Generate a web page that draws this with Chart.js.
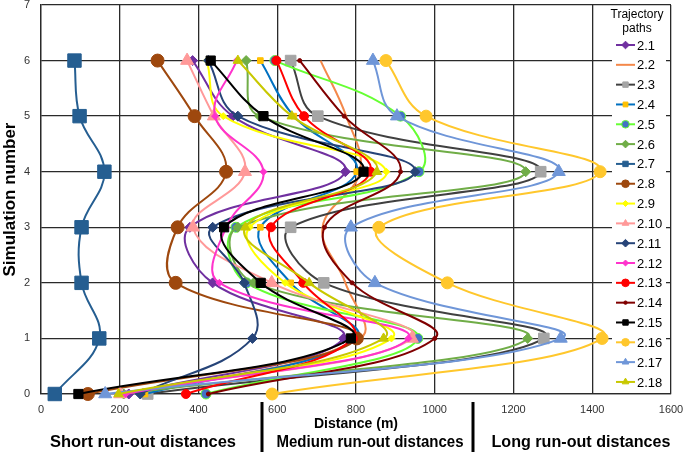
<!DOCTYPE html>
<html>
<head>
<meta charset="utf-8">
<script src="https://cdn.jsdelivr.net/npm/chart.js@4.4.0/dist/chart.umd.min.js"></script>
<style>
  html, body { margin: 0; padding: 0; background: #fff; }
</style>
</head>
<body>
<canvas id="line_chart" width="685" height="454"></canvas>
<script>
// simulation numbers (y axis), run-out distance in metres for each path (x axis)
var simNumbers = [0, 1, 2, 3, 4, 5, 6];
var pathNames = ["2.1", "2.2", "2.3", "2.4", "2.5", "2.6", "2.7", "2.8", "2.9",
                 "2.10", "2.11", "2.12", "2.13", "2.14", "2.15", "2.16", "2.17", "2.18"];

var path2_1  = [223, 768, 436, 378, 773, 487, 385];
var path2_2  = [240, 810, 773, 715, 810, 775, 710];
var path2_3  = [271, 1277, 718, 634, 1269, 703, 634];
var path2_4  = [264, 800, 634, 557, 802, 642, 557];
var path2_5  = [419, 957, 522, 495, 960, 913, 594];
var path2_6  = [210, 1236, 540, 500, 1231, 555, 521];
var path2_7  = [35, 148, 103, 103, 161, 98, 85];
var path2_8  = [119, 802, 342, 347, 470, 390, 296];
var path2_9  = [205, 890, 620, 530, 877, 463, 421];
var path2_10 = [201, 942, 586, 386, 518, 439, 371];
var path2_11 = [252, 537, 516, 436, 950, 500, 425];
var path2_12 = [215, 933, 453, 470, 565, 442, 497];
var path2_13 = [368, 792, 666, 584, 837, 668, 598];
var path2_14 = [425, 1000, 790, 720, 913, 770, 657];
var path2_15 = [95, 787, 558, 465, 819, 565, 431];
var path2_16 = [587, 1425, 1032, 858, 1420, 978, 876];
var path2_17 = [163, 1320, 848, 787, 1315, 904, 843];
var path2_18 = [197, 870, 681, 519, 853, 637, 500];

var xTicks = [0, 200, 400, 600, 800, 1000, 1200, 1400, 1600];

var runs = [path2_1, path2_2, path2_3, path2_4, path2_5, path2_6, path2_7, path2_8, path2_9,
            path2_10, path2_11, path2_12, path2_13, path2_14, path2_15, path2_16, path2_17, path2_18];

// line colour, marker fill, marker border, marker style, marker radius
var styles = [
    ['#7030A0', '#7030A0', '#7030A0', 'rectRot', 5],
    ['#F4884A', '#F4884A', '#F4884A', 'circle', 0],
    ['#404040', '#A5A5A5', '#A5A5A5', 'rect', 7.5],
    ['#0070C0', '#FFC000', '#FFC000', 'rect', 4],
    ['#66FF33', '#4472C4', '#66FF33', 'circle', 5],
    ['#70AD47', '#70AD47', '#70AD47', 'rectRot', 5],
    ['#255E91', '#255E91', '#255E91', 'rect', 9.5],
    ['#9E480E', '#9E480E', '#9E480E', 'circle', 6.5],
    ['#FFFF00', '#FFFF00', '#FFFF00', 'rectRot', 3.5],
    ['#FF9999', '#FF9999', '#FF9999', 'triangle', 7.5],
    ['#264478', '#264478', '#264478', 'rectRot', 5],
    ['#FF33CC', '#FF33CC', '#FF33CC', 'rectRot', 3.5],
    ['#FF0000', '#FF0000', '#FF0000', 'circle', 4.5],
    ['#800000', '#800000', '#800000', 'circle', 2],
    ['#000000', '#000000', '#000000', 'rect', 6.5],
    ['#FFC72C', '#FFC72C', '#FFC72C', 'circle', 6],
    ['#6F96D8', '#6F96D8', '#6F96D8', 'triangle', 7.5],
    ['#C8C800', '#C8C800', '#C8C800', 'triangle', 5.5]
];

var datasets = runs.map(function (run, i) {
    var s = styles[i];
    return {
        label: pathNames[i],
        data: run.map(function (d, k) { return { x: d, y: simNumbers[k] }; }),
        showLine: true,
        tension: 0.4,
        borderWidth: 2,
        borderColor: s[0],
        backgroundColor: s[0],
        pointBackgroundColor: s[1],
        pointBorderColor: s[2],
        pointBorderWidth: 1,
        pointStyle: s[3],
        pointRadius: s[4],
        clip: false,
        order: runs.length - 1 - i
    };
});

var extras = {
    id: 'extras',
    afterDraw: function (chart) {
        var ctx = chart.ctx;
        var area = chart.chartArea;
        ctx.save();

        // legend box inside the plot
        ctx.fillStyle = '#fff';
        ctx.fillRect(612, area.top + 1, 54, area.bottom - area.top - 2);
        ctx.fillStyle = '#000';
        ctx.font = '12px "Liberation Sans", Arial, sans-serif';
        ctx.textAlign = 'center';
        ctx.textBaseline = 'middle';
        ctx.fillText('Trajectory', 637, 15);
        ctx.fillText('paths', 637, 29);

        ctx.font = '13px "Liberation Sans", Arial, sans-serif';
        ctx.textAlign = 'left';
        pathNames.forEach(function (name, i) {
            var s = styles[i];
            var y = 45 + i * 19.82;
            ctx.strokeStyle = s[0];
            ctx.lineWidth = 2;
            ctx.beginPath();
            ctx.moveTo(616, y);
            ctx.lineTo(635, y);
            ctx.stroke();
            if (s[4] > 0) {
                ctx.fillStyle = s[1];
                ctx.strokeStyle = s[2];
                ctx.lineWidth = 1;
                Chart.helpers.drawPoint(ctx, {
                    pointStyle: s[3], rotation: 0,
                    radius: Math.min(s[4], 4.5) * 0.85, borderWidth: 1
                }, 625.5, y);
            }
            ctx.fillStyle = '#000';
            ctx.fillText(name, 637, y + 1);
        });

        // run-out classes under the x axis
        ctx.font = 'bold 16.5px "Liberation Sans", Arial, sans-serif';
        ctx.textAlign = 'center';
        ctx.fillStyle = '#000';
        ctx.fillText('Short run-out distances', 143, 442, 187);
        ctx.fillText('Medium run-out distances', 370, 442, 187);
        ctx.fillText('Long run-out distances', 581, 442, 179);

        ctx.strokeStyle = '#000';
        ctx.lineWidth = 3;
        [262, 473].forEach(function (x) {
            ctx.beginPath();
            ctx.moveTo(x, 402);
            ctx.lineTo(x, 452);
            ctx.stroke();
        });
        ctx.restore();
    }
};

new Chart(document.getElementById("line_chart").getContext("2d"), {
    type: 'scatter',
    data: { datasets: datasets },
    options: {
        responsive: false,
        animation: false,
        layout: { autoPadding: false, padding: { top: 5, right: 14, left: 0, bottom: 0 } },
        plugins: { legend: { display: false }, tooltip: { enabled: false } },
        scales: {
            x: {
                type: 'linear',
                min: 0,
                max: 1600,
                afterBuildTicks: function (scale) {
                    scale.ticks = xTicks.map(function (v) { return { value: v }; });
                },
                afterFit: function (scale) {
                    scale.height = 60;
                    scale.paddingLeft = 0;
                    scale.paddingRight = 0;
                },
                grid: { color: '#2a2a2a', lineWidth: 1.3, drawTicks: false },
                border: { color: '#2a2a2a', width: 1.3 },
                ticks: {
                    padding: 9,
                    color: '#333',
                    callback: function (v) { return String(v); },
                    font: { family: '"Liberation Sans", Arial, sans-serif', size: 11 }
                },
                title: {
                    display: true,
                    text: 'Distance (m)',
                    color: '#000',
                    padding: { top: 0, bottom: 21 },
                    font: { family: '"Liberation Sans", Arial, sans-serif', size: 14, weight: 'bold' }
                }
            },
            y: {
                min: 0,
                max: 7,
                afterFit: function (scale) {
                    scale.width = 41;
                    scale.paddingTop = 0;
                    scale.paddingBottom = 0;
                },
                grid: { color: '#2a2a2a', lineWidth: 1.3, drawTicks: false },
                border: { color: '#2a2a2a', width: 1.3 },
                ticks: {
                    stepSize: 1,
                    padding: 11,
                    color: '#333',
                    font: { family: '"Liberation Sans", Arial, sans-serif', size: 11 }
                },
                title: {
                    display: true,
                    text: 'Simulation number',
                    color: '#000',
                    padding: 0,
                    font: { family: '"Liberation Sans", Arial, sans-serif', size: 17, weight: 'bold' }
                }
            }
        }
    },
    plugins: [extras]
});
</script>
</body>
</html>
